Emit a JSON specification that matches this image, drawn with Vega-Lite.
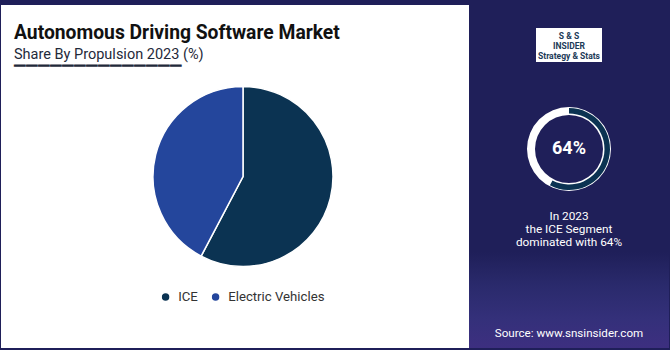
{
  "$schema": "https://vega.github.io/schema/vega-lite/v6.json",
  "background": "#1f1f59",
  "padding": {"left": 1, "top": 5, "right": 1, "bottom": 2},
  "autosize": {"type": "pad"},
  "config": {"view": {"stroke": null}, "font": "Roboto", "concat": {"spacing": 0}},
  "datasets": {
    "share": [
      {"segment": "ICE", "share": 57.7},
      {"segment": "Electric Vehicles", "share": 42.3}
    ]
  },
  "spacing": 0,
  "bounds": "flush",
  "hconcat": [
    {
      "width": 16, "height": 343,
      "view": {"fill": "#ffffff", "stroke": null},
      "data": {"values": [{}]},
      "mark": {"type": "text", "text": ""},
      "encoding": {}
    },
    {
      "width": 452, "height": 343,
      "view": {"fill": "#ffffff", "stroke": null},
      "title": {
        "text": "Autonomous Driving Software Market",
        "subtitle": ["Share By Propulsion 2023 (%)", "▔▔▔▔▔▔▔▔▔▔▔▔▔▔"],
        "anchor": "start", "frame": "group", "orient": "top",
        "offset": -75, "dx": -3,
        "fontSize": 19.3, "fontWeight": "bold", "color": "#111111",
        "subtitleFontSize": 14.5, "subtitleColor": "#1f2a3a",
        "subtitlePadding": 4, "subtitleLineHeight": 19
      },
      "data": {"name": "share"},
      "mark": {"type": "arc", "outerRadius": 90, "stroke": "#ffffff", "strokeWidth": 1.5},
      "encoding": {
        "theta": {"field": "share", "type": "quantitative", "stack": true},
        "order": {"field": "share", "sort": "descending"},
        "color": {
          "field": "segment", "type": "nominal",
          "scale": {"domain": ["ICE", "Electric Vehicles"], "range": ["#0b3352", "#24469c"]},
          "legend": {
            "title": null, "orient": "none", "direction": "horizontal",
            "legendX": 158, "legendY": 285,
            "symbolType": "circle", "symbolSize": 80,
            "labelFontSize": 13.2, "labelColor": "#333333",
            "labelOffset": 6, "columnPadding": 10, "padding": 0
          }
        }
      }
    },
    {
      "spacing": 0,
      "bounds": "flush",
      "vconcat": [
        {
          "width": 200, "height": 80,
          "layer": [
            {
              "data": {"values": [{}]},
              "mark": {"type": "point", "shape": "M-1,-0.515H1V0.515H-1Z", "size": 4356, "filled": true, "fill": "#ffffff", "opacity": 1, "strokeWidth": 0},
              "encoding": {}
            },
            {
              "data": {"values": [{}]},
              "mark": {"type": "text", "text": ["S & S", "INSIDER", "Strategy & Stats"], "fontSize": 8.5, "lineHeight": 10, "dy": -9, "fontWeight": "bold", "color": "#1b3a57", "align": "center", "baseline": "middle"},
              "encoding": {}
            }
          ]
        },
        {
          "width": 200, "height": 128,
          "layer": [
            {
              "data": {"values": [{}]},
              "mark": {"type": "arc", "outerRadius": 42, "innerRadius": 34, "fill": "#ffffff"},
              "encoding": {}
            },
            {
              "data": {"name": "share"},
              "mark": {"type": "arc", "outerRadius": 41, "innerRadius": 35.5},
              "encoding": {
                "theta": {"field": "share", "type": "quantitative", "stack": true},
                "order": {"field": "share", "sort": "descending"},
                "color": {"condition": {"test": "datum.segment === 'ICE'", "value": "#0b3352"}, "value": "rgba(0,0,0,0)"}
              }
            },
            {
              "data": {"values": [{"label": "64%"}]},
              "mark": {"type": "text", "fontSize": 18, "fontWeight": "bold", "color": "#ffffff", "align": "center", "baseline": "middle"},
              "encoding": {"text": {"field": "label"}}
            }
          ]
        },
        {
          "width": 200, "height": 5,
          "data": {"values": [{}]},
          "mark": {"type": "text", "text": ["In 2023", "the ICE Segment", "dominated with 64%"], "fontSize": 11.8, "lineHeight": 13, "color": "#ffffff", "align": "center", "baseline": "middle"},
          "encoding": {}
        },
        {
          "width": 200, "height": 34,
          "data": {"values": [{}]},
          "mark": {"type": "text", "text": ""},
          "encoding": {}
        },
        {
          "width": 200, "height": 67,
          "data": {"values": [{}]},
          "mark": {"type": "rect", "color": {"gradient": "linear", "x1": 0, "y1": 0, "x2": 0, "y2": 1, "stops": [{"offset": 0, "color": "#1f1f59"}, {"offset": 0.5, "color": "#2a2a6c"}, {"offset": 1, "color": "#34307a"}]}},
          "encoding": {}
        },
        {
          "width": 200, "height": 29,
          "layer": [
            {
              "data": {"values": [{}]},
              "mark": {"type": "rect", "color": {"gradient": "linear", "x1": 0, "y1": 0, "x2": 0, "y2": 1, "stops": [{"offset": 0, "color": "#34307a"}, {"offset": 1, "color": "#3d2f80"}]}},
              "encoding": {}
            },
            {
              "data": {"values": [{}]},
              "mark": {"type": "text", "text": "Source: www.snsinsider.com", "fontSize": 11.6, "color": "#ffffff", "align": "center", "baseline": "middle"},
              "encoding": {}
            }
          ]
        }
      ]
    }
  ]
}
